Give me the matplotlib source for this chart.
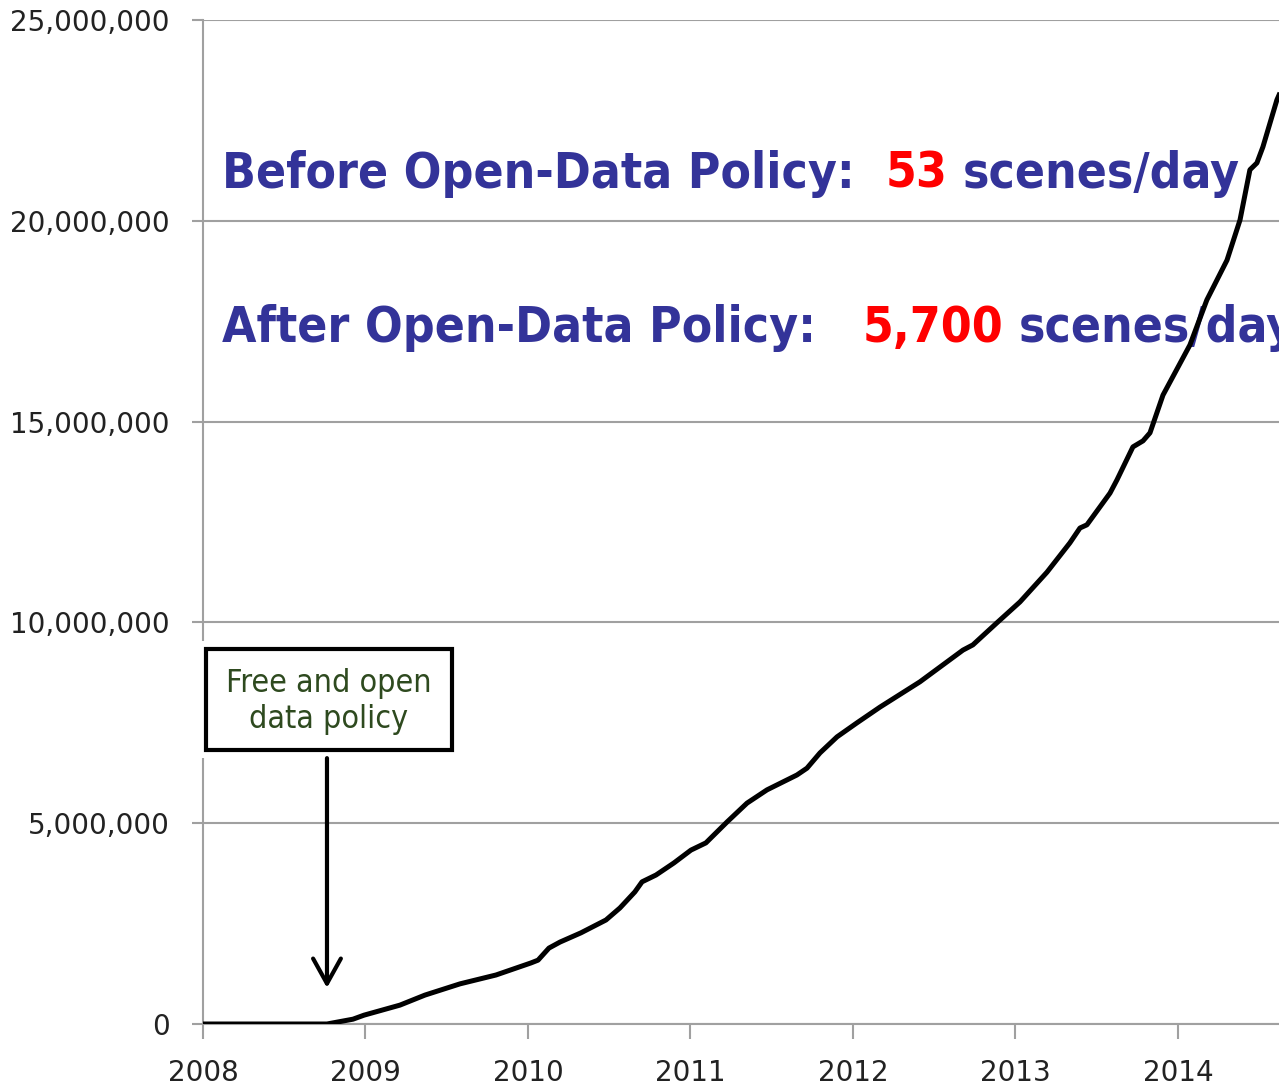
import os
import numpy as np
import matplotlib
matplotlib.use("Agg")
import matplotlib.pyplot as plt
from matplotlib import font_manager as fm
from matplotlib.patches import Rectangle

# cumulative Landsat scenes downloaded
years = [2008.000, 2008.763, 2008.923, 2008.991, 2009.212, 2009.366, 2009.582,
         2009.803, 2010.018, 2010.062, 2010.129, 2010.197, 2010.326, 2010.480,
         2010.566, 2010.658, 2010.702, 2010.788, 2010.898, 2011.003, 2011.095,
         2011.225, 2011.348, 2011.471, 2011.655, 2011.717, 2011.797, 2011.902,
         2012.025, 2012.166, 2012.412, 2012.677, 2012.738, 2012.886, 2013.028,
         2013.194, 2013.335, 2013.397, 2013.440, 2013.582, 2013.625, 2013.723,
         2013.785, 2013.828, 2013.908, 2014.074, 2014.178, 2014.302, 2014.382,
         2014.443, 2014.486, 2014.523, 2014.609, 2014.622]
scenes_m = [0.00, 0.00, 0.12, 0.22, 0.47, 0.72, 1.00,
            1.22, 1.52, 1.59, 1.89, 2.04, 2.27, 2.59,
            2.89, 3.29, 3.54, 3.71, 4.01, 4.33, 4.51,
            5.03, 5.50, 5.83, 6.20, 6.37, 6.75, 7.15,
            7.50, 7.89, 8.52, 9.31, 9.44, 9.99, 10.51,
            11.25, 11.98, 12.35, 12.43, 13.22, 13.55, 14.37,
            14.52, 14.72, 15.66, 16.91, 18.03, 19.02, 20.02,
            21.27, 21.44, 21.84, 23.01, 23.13]

y_ticks = [0, 5_000_000, 10_000_000, 15_000_000, 20_000_000, 25_000_000]
x_ticks = [2008, 2009, 2010, 2011, 2012, 2013, 2014]

policy_year = 2008.763

line1 = [("Before Open-Data Policy:  ", "blue"), ("53", "red"), (" scenes/day", "blue")]
line2 = [("After Open-Data Policy:   ", "blue"), ("5,700", "red"), (" scenes/day", "blue")]

W, H = 1279, 1085
COLORS = {"blue": "#333399", "red": "#ff0000"}
GRID = "#a0a0a0"


def find_condensed(bold):
    # look for a narrow / condensed sans face among the installed files
    keys = ["liberationsansnarrow", "arialnarrow", "notosans-condensed",
            "dejavusanscondensed", "robotocondensed", "notosans-semicondensed"]
    bad = ["italic", "oblique", "light", "thin", "medium", "black",
           "semibold", "extrabold"]
    files = [f.fname for f in fm.fontManager.ttflist]
    for key in keys:
        for path in files:
            base = os.path.splitext(os.path.basename(path))[0].lower()
            if key not in base or any(b in base for b in bad):
                continue
            if bold and base.endswith("bold"):
                return path
            if not bold and "bold" not in base:
                return path
    return None


bold_path = find_condensed(True)
reg_path = find_condensed(False)


def make_fp(path, bold, size):
    if path:
        return fm.FontProperties(fname=path, size=size)
    return fm.FontProperties(family="Liberation Sans",
                             weight="bold" if bold else "normal", size=size)


fig = plt.figure(figsize=(W / 100, H / 100), dpi=100)
ax = fig.add_axes([203 / W, 61 / H, 1076 / W, 1004 / H])
renderer = fig.canvas.get_renderer()


def text_width(s, fp):
    t = fig.text(0, 0, s, fontproperties=fp)
    w = t.get_window_extent(renderer=renderer).width
    t.remove()
    return w


ax.plot(years, np.array(scenes_m) * 1e6, color="black", lw=3.6,
        solid_joinstyle="round", zorder=7)

ax.set_xlim(2008, 2014.622)
ax.set_ylim(0, 25_000_000)

ax.set_yticks(y_ticks)
ax.set_yticklabels([f"{v:,}" for v in y_ticks])
ax.set_xticks(x_ticks)
ax.set_xticklabels([str(y) for y in x_ticks])

ax.grid(axis="y", color=GRID, lw=1.5)
ax.set_axisbelow(True)
for side in ["top", "right"]:
    ax.spines[side].set_visible(False)
for side in ["left", "bottom"]:
    ax.spines[side].set_color(GRID)
    ax.spines[side].set_linewidth(1.5)

ax.tick_params(axis="y", length=8, width=1.5, color=GRID, pad=16,
               labelsize=20, labelcolor="#222222")
ax.tick_params(axis="x", length=11, width=1.5, color=GRID, pad=14,
               labelsize=20, labelcolor="#222222")

# box "Free and open data policy" (white margin hides the axis line)
ax.add_patch(Rectangle((2007.957, 6.62e6), 1.625, 2.92e6, facecolor="white",
                       edgecolor="none", clip_on=False, zorder=4))
ax.add_patch(Rectangle((2008.018, 6.82e6), 1.514, 2.52e6, facecolor="white",
                       edgecolor="black", lw=3, clip_on=False, zorder=5))

box_size = 27
w = text_width("Free and open", make_fp(reg_path, False, box_size))
box_size = min(27, box_size * 205 / w)
box_fp = make_fp(reg_path, False, box_size)
for txt, py in [("Free and open", 692), ("data policy", 728)]:
    ax.text(329 / W, 1 - py / H, txt, transform=fig.transFigure,
            ha="center", va="baseline", fontproperties=box_fp,
            color="#2e4a1f", zorder=6)

ax.annotate("", xy=(policy_year, 0.9e6), xytext=(policy_year, 6.62e6),
            arrowprops=dict(arrowstyle="->,head_length=1.8,head_width=1.0",
                            lw=3, color="black", shrinkA=0, shrinkB=0),
            zorder=6)

# headline text, sized so the first line spans the same width as the reference
head_size = 45
w = text_width("".join(s for s, _ in line1), make_fp(bold_path, True, head_size))
head_size = min(45, head_size * 1018 / w)
head_fp = make_fp(bold_path, True, head_size)

for pieces, py in [(line1, 188), (line2, 342)]:
    prefix = ""
    for txt, col in pieces:
        full_w = text_width(prefix + txt, head_fp) if prefix else 0
        own_w = text_width(txt.lstrip(), head_fp)
        x0 = 222 + (full_w - own_w if prefix else 0)
        ax.text(x0 / W, 1 - py / H, txt.lstrip(), transform=fig.transFigure,
                ha="left", va="baseline", fontproperties=head_fp,
                color=COLORS[col], zorder=3)
        prefix += txt

fig.savefig("out.png", dpi=100)
